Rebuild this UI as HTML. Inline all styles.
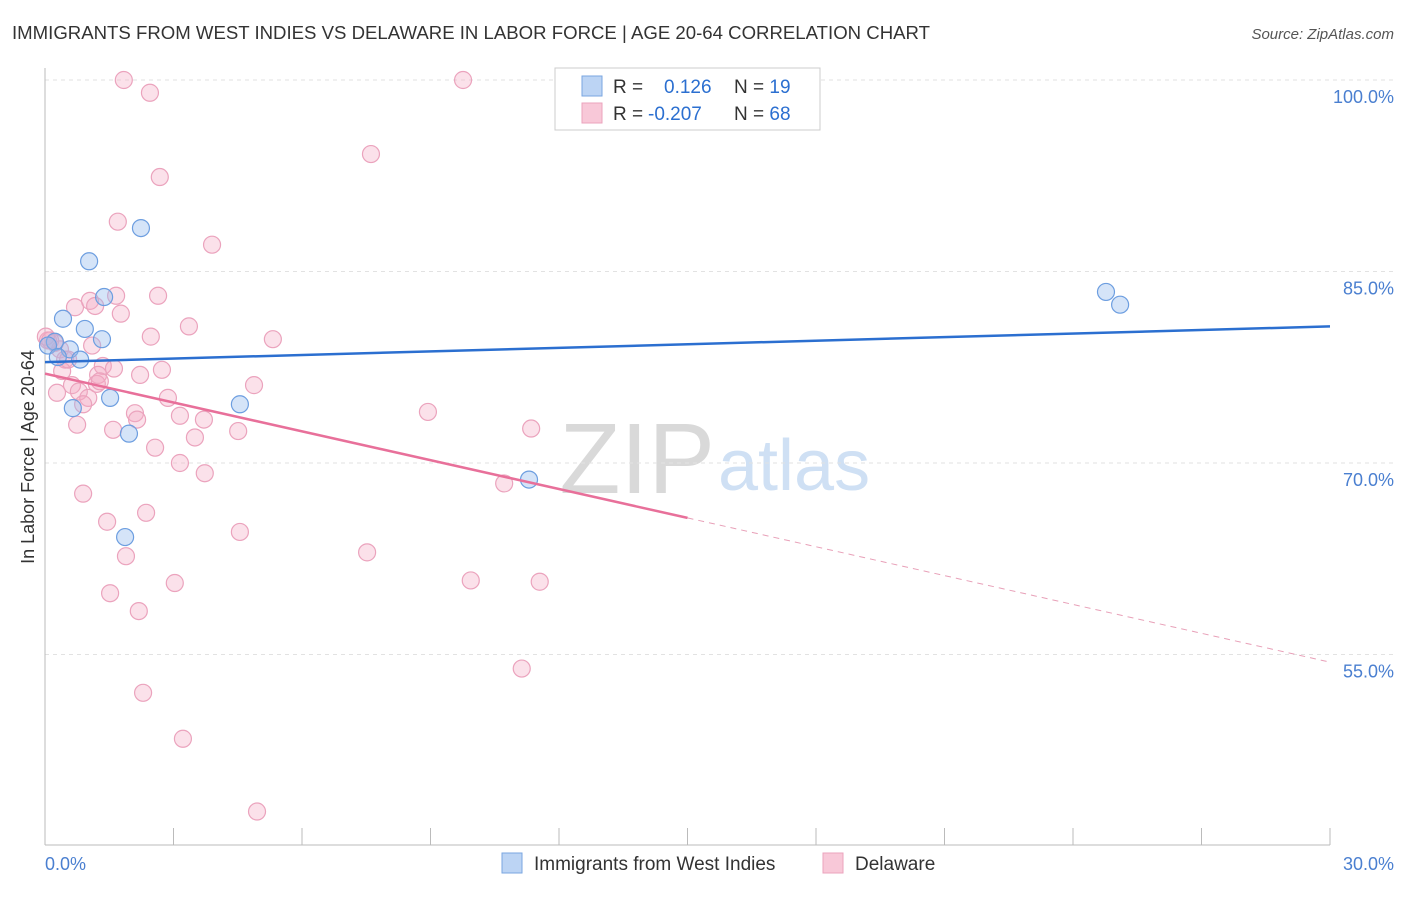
<!DOCTYPE html>
<html><head><meta charset="utf-8"><style>
body{margin:0;background:#fff;font-family:"Liberation Sans",sans-serif;}
svg text{font-family:"Liberation Sans",sans-serif;}
</style></head><body>
<svg id="c" width="1406" height="892" xmlns="http://www.w3.org/2000/svg">
<text x="12" y="39" font-size="18" fill="#333" textLength="918" lengthAdjust="spacingAndGlyphs">IMMIGRANTS FROM WEST INDIES VS DELAWARE IN LABOR FORCE | AGE 20-64 CORRELATION CHART</text>
<text x="1394" y="39" font-size="15" fill="#555" font-style="italic" text-anchor="end">Source: ZipAtlas.com</text>
<text x="715" y="493" font-size="100" fill="#d9d9d9" text-anchor="end" font-family="Liberation Serif,serif">ZIP</text>
<text x="718" y="490" font-size="72" fill="#cfe0f4">atlas</text>
<g id="grid"></g>
<line x1="45" y1="68" x2="45" y2="845" stroke="#bbb"/>
<line x1="45" y1="845" x2="1330" y2="845" stroke="#bbb"/>
<text x="34" y="457" font-size="18" fill="#333" text-anchor="middle" transform="rotate(-90 34 457)">In Labor Force | Age 20-64</text>
<text x="45" y="870" font-size="18" fill="#4a7fd0">0.0%</text>
<text x="1394" y="870" font-size="18" fill="#4a7fd0" text-anchor="end">30.0%</text>
<g id="pts"></g>
<g id="lines"></g>
<g>
<rect x="555" y="68" width="265" height="62" fill="#fff" stroke="#ccc"/>
<rect x="582" y="76" width="20" height="20" fill="#bcd4f4" stroke="#7aa6e0"/>
<rect x="582" y="103" width="20" height="20" fill="#f8c8d8" stroke="#eba3bd"/>
<text x="613" y="93" font-size="19" fill="#333">R = <tspan fill="#2b6fd0" x="664">0.126</tspan><tspan fill="#333" x="734">N = </tspan><tspan fill="#2b6fd0">19</tspan></text>
<text x="613" y="120" font-size="19" fill="#333">R = <tspan fill="#2b6fd0" x="648">-0.207</tspan><tspan fill="#333" x="734">N = </tspan><tspan fill="#2b6fd0">68</tspan></text>
</g>
<g>
<rect x="502" y="853" width="20" height="20" fill="#bcd4f4" stroke="#7aa6e0"/>
<text x="534" y="870" font-size="19" fill="#333">Immigrants from West Indies</text></g>
<g>
<rect x="823" y="853" width="20" height="20" fill="#f8c8d8" stroke="#eba3bd"/>
<text x="855" y="870" font-size="19" fill="#333">Delaware</text></g>
</svg>
<script>
const yTicks=[100,85,70,55];
const blueX=[2.24,1.03,1.38,0.42,0.93,1.33,0.23,0.58,0.07,0.30,0.82,1.52,0.65,1.96,4.55,1.87,11.3,24.77,25.1];
const blueY=[88.4,85.8,83.0,81.3,80.5,79.7,79.5,78.9,79.2,78.3,78.1,75.1,74.3,72.3,74.6,64.2,68.7,83.4,82.4];
const pinkX=[1.84,2.45,9.76,7.61,2.68,1.70,3.90,2.64,0.70,1.05,1.17,1.66,1.77,3.36,2.47,5.32,0.07,0.23,0.35,0.47,1.10,0.40,1.35,1.61,2.22,2.73,1.24,0.63,1.21,0.79,0.28,1.01,0.89,2.87,4.88,2.10,3.15,2.15,3.71,1.59,0.75,3.50,4.51,2.57,3.15,3.73,8.94,11.35,10.72,0.89,1.45,2.36,1.89,4.55,7.52,1.52,3.03,9.94,11.55,2.19,11.13,2.29,3.22,4.95,0.12,0.02,0.54,1.28];
const pinkY=[100,99.0,100,94.2,92.4,88.9,87.1,83.1,82.2,82.7,82.3,83.1,81.7,80.7,79.9,79.7,79.6,79.4,78.9,78.1,79.2,77.2,77.6,77.4,76.9,77.3,76.9,76.1,76.2,75.6,75.5,75.1,74.6,75.1,76.1,73.9,73.7,73.4,73.4,72.6,73.0,72.0,72.5,71.2,70.0,69.2,74.0,72.7,68.4,67.6,65.4,66.1,62.7,64.6,63.0,59.8,60.6,60.8,60.7,58.4,53.9,52.0,48.4,42.7,79.6,79.9,78.1,76.4];
const blueLine=[77.9,80.7];
const pinkLine=[77.0,54.4];
const X=v=>45+v/30*1285, Y=v=>80+(100-v)/15*191.5;
const NS="http://www.w3.org/2000/svg";
function mk(t,a,p){const e=document.createElementNS(NS,t);for(const k in a)e.setAttribute(k,a[k]);p.appendChild(e);return e;}
const g=document.getElementById('grid');
yTicks.forEach(t=>{
 const l=mk('line',{x1:45,x2:1394,y1:Y(t),y2:Y(t),stroke:'#e2e2e2','stroke-dasharray':'4,4'},g);
 
 
 const tx=mk('text',{x:1394,y:Y(t)+23,'font-size':18,fill:'#4a7fd0','text-anchor':'end'},g);
 tx.textContent=t.toFixed(1)+'%';
 
 
});
for(let i=0;i<=10;i++){const l=mk('line',{x1:X(i*3),x2:X(i*3),y1:828,y2:845,stroke:'#bbb'},g);
 
 }
const p=document.getElementById('pts');
pinkX.forEach((x,i)=>{const c=mk('circle',{cx:X(x),cy:Y(pinkY[i]),r:8.5,fill:'rgba(244,170,196,0.35)',stroke:'#eba3bd','stroke-width':1.2},p);
 
 });
blueX.forEach((x,i)=>{const c=mk('circle',{cx:X(x),cy:Y(blueY[i]),r:8.5,fill:'rgba(150,188,238,0.4)',stroke:'#6d9ee0','stroke-width':1.2},p);
 
 });
const L=document.getElementById('lines');
const bl=mk('line',{x1:X(0),y1:Y(blueLine[0]),x2:X(30),y2:Y(blueLine[1]),stroke:'#2b6fd0','stroke-width':2.5},L);


const pAt=v=>pinkLine[0]+(pinkLine[1]-pinkLine[0])*v/30;
const pl=mk('line',{x1:X(0),y1:Y(pAt(0)),x2:X(15),y2:Y(pAt(15)),stroke:'#e8709a','stroke-width':2.5},L);


const pd=mk('line',{x1:X(15),y1:Y(pAt(15)),x2:X(30),y2:Y(pAt(30)),stroke:'#e8a0b8','stroke-width':1,'stroke-dasharray':'6,5'},L);


</script>
</body></html>
